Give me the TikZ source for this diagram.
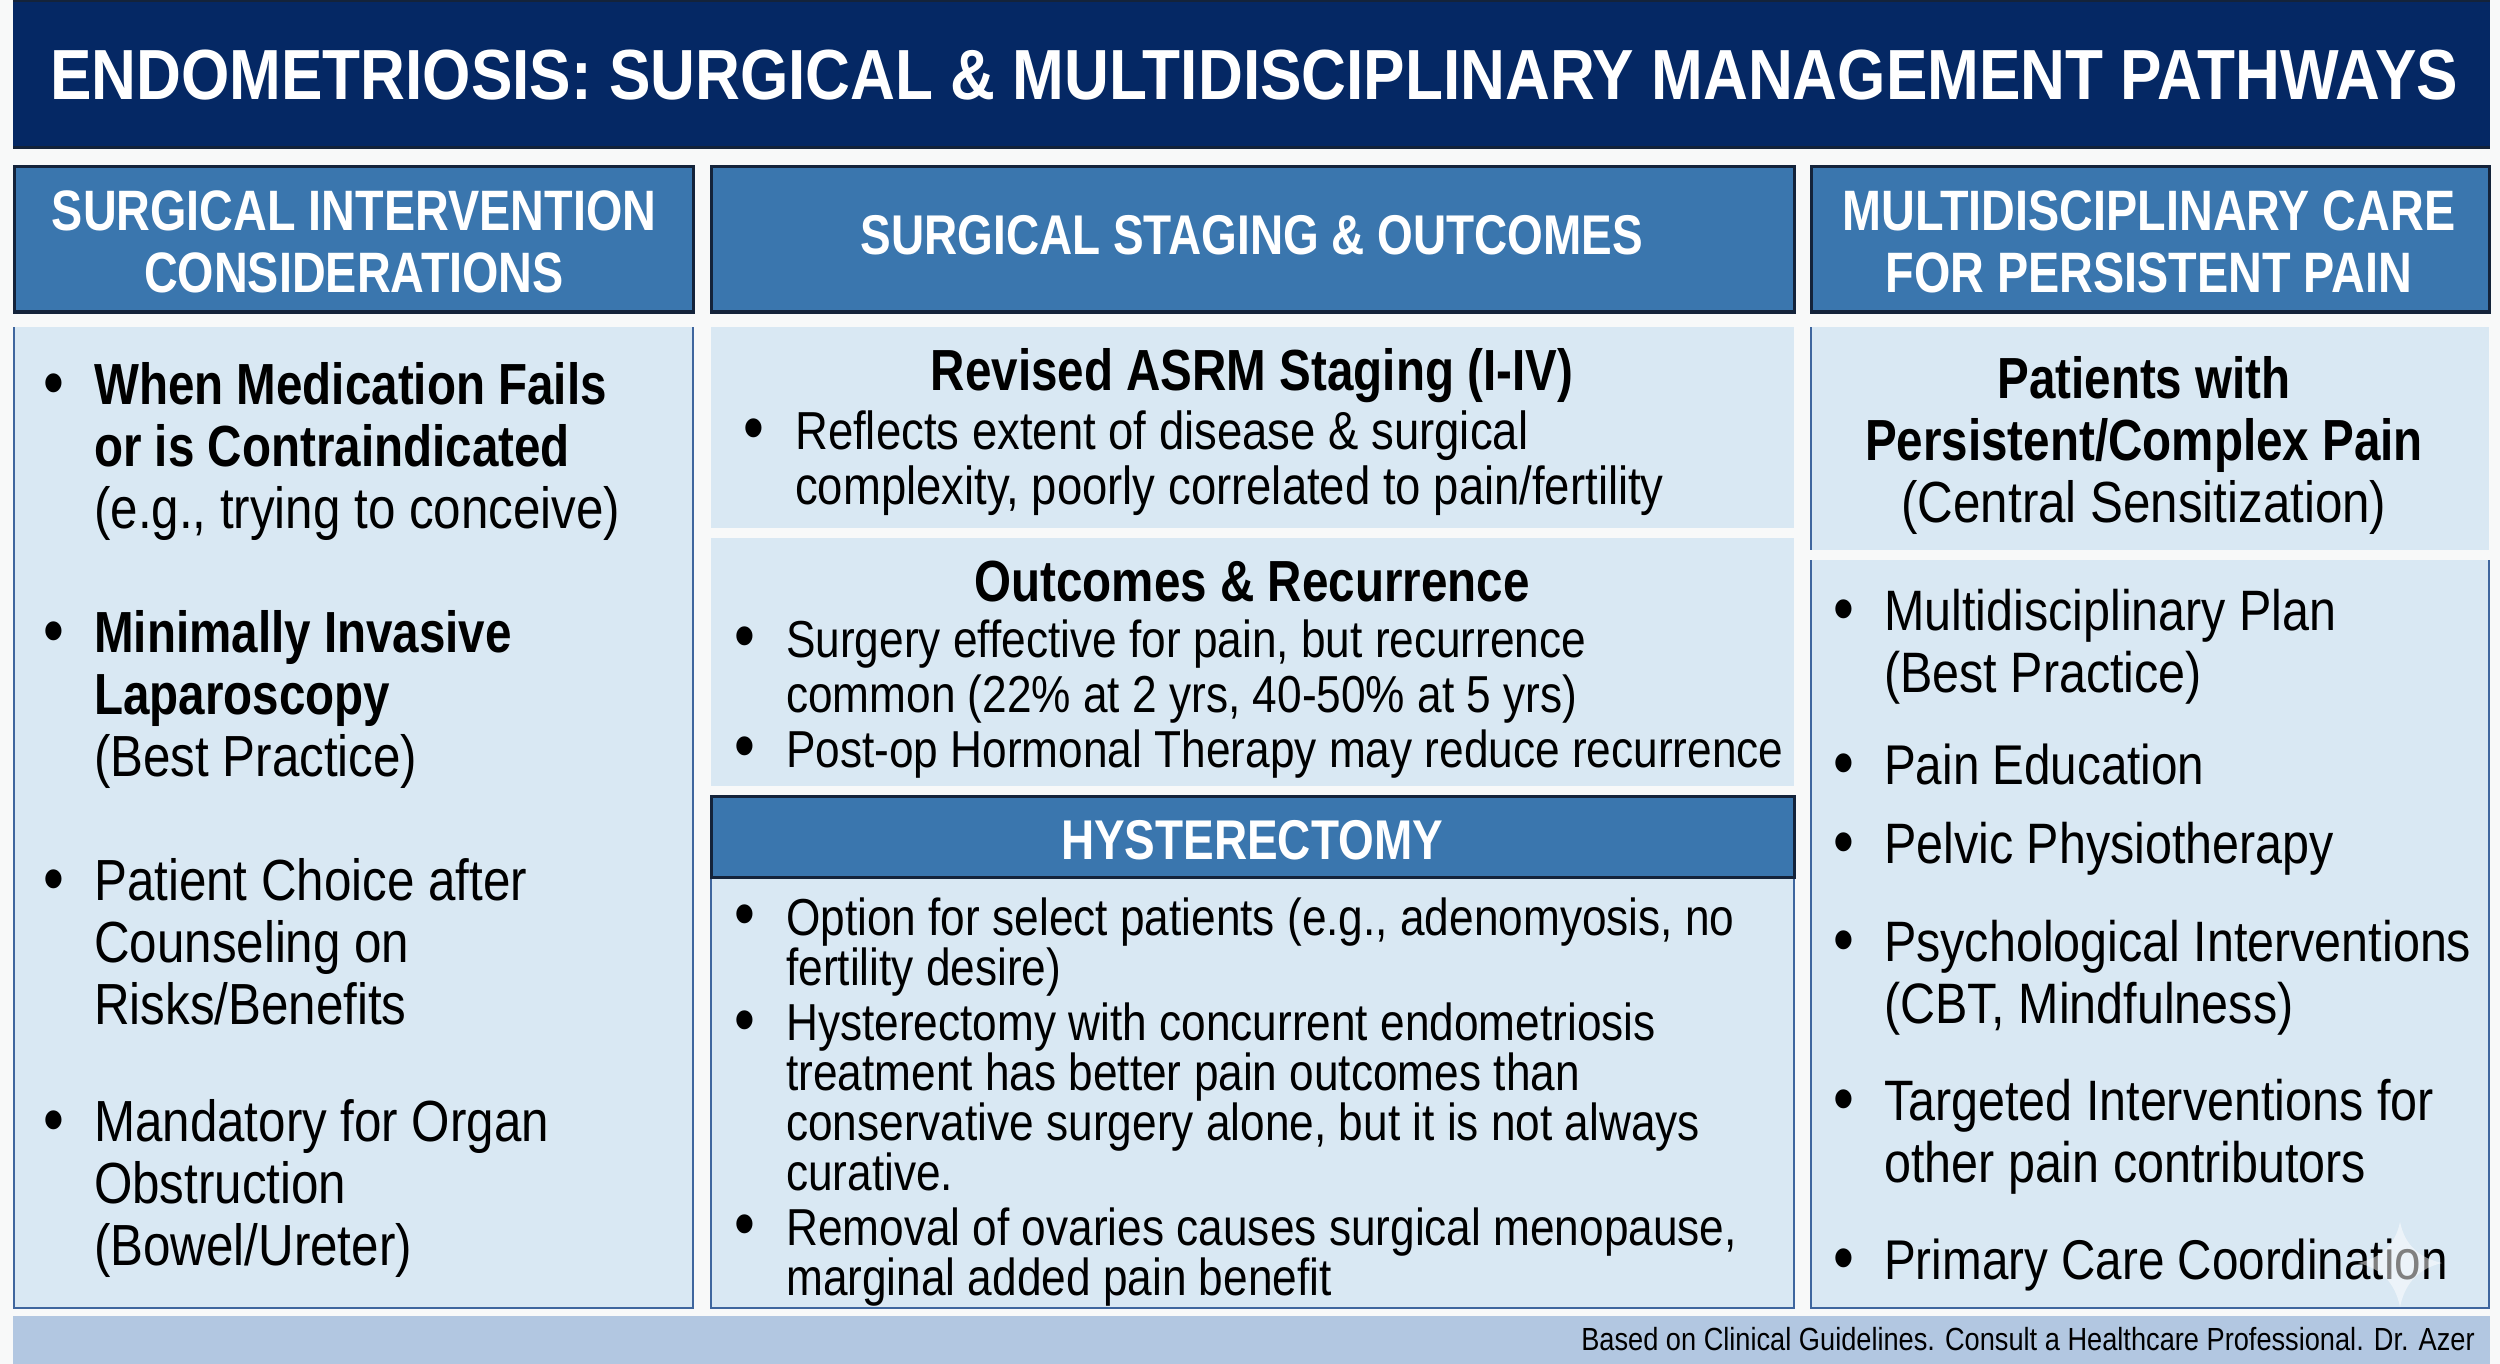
\documentclass[tikz,border=0pt]{standalone}
\usepackage{fontspec}
\setmainfont{Liberation Sans}
\newfontfamily\narrowfont[FakeStretch=0.85,BoldFeatures={FakeStretch=0.82}]{Liberation Sans}
\newfontfamily\titlefont[FakeStretch=0.875]{Liberation Sans}
\definecolor{pagewhite}{HTML}{F8F9F9}
\definecolor{titlenavy}{HTML}{052864}
\definecolor{headerblue}{HTML}{3A76AE}
\definecolor{panelblue}{HTML}{D9E8F3}
\definecolor{panelline}{HTML}{3F669E}
\definecolor{footerblue}{HTML}{B2C7E1}
\definecolor{headerline}{HTML}{14233A}
\tikzstyle{panelshading}=[fill=panelblue]
\tikzstyle{headershading}=[fill=headerblue,draw=headerline,line width=3pt]
\tikzstyle{panelborder}=[draw=panelline,line width=2.5pt]
\tikzstyle{headertext}=[text=white,font=\narrowfont\bfseries\fontsize{57}{62}\selectfont,align=center,inner sep=0pt]
\tikzstyle{subheadertext}=[headertext,font=\narrowfont\bfseries\fontsize{56}{62}\selectfont]
\tikzstyle{bigitem}=[anchor=base west,align=left,inner sep=0pt,font=\narrowfont\fontsize{58}{62}\selectfont]
\tikzstyle{rightitem}=[bigitem,font=\narrowfont\fontsize{57}{62}\selectfont]
\tikzstyle{shortitem}=[bigitem,font=\narrowfont\fontsize{56}{62}\selectfont]
\tikzstyle{miditem}=[anchor=base west,align=left,inner sep=0pt,font=\narrowfont\fontsize{52}{55}\selectfont]
\tikzstyle{hystitem}=[miditem,font=\narrowfont\fontsize{52}{49.7}\selectfont]
\tikzstyle{midtitle}=[inner sep=0pt,align=center,font=\narrowfont\bfseries\fontsize{58}{62}\selectfont]
\newcommand{\bul}[1]{\leavevmode\llap{\raisebox{-2.5pt}{\fontsize{70}{62}\selectfont\textbullet}\hspace{#1}}}
\begin{document}
\begin{tikzpicture}[x=1pt,y=-1pt]
	\useasboundingbox (0,0) rectangle (2500,1364);
	\fill[pagewhite] (0,0) rectangle (2500,1364);
	% title band
	\fill[titlenavy] (13,0) rectangle (2490,148);
	\draw[headerline,line width=3pt] (13,148) -- (2490,148);
	\draw[headerline,line width=3pt] (13,1) -- (2490,1);
	\node[text=white,inner sep=0pt,font=\titlefont\bfseries\fontsize{71}{75}\selectfont] (maintitle) at (1254,75) {ENDOMETRIOSIS: SURGICAL \& MULTIDISCIPLINARY MANAGEMENT PATHWAYS};
	% column headers
	\filldraw[headershading] (14,167) rectangle (693,312);
	\filldraw[headershading] (711,167) rectangle (1794,312);
	\filldraw[headershading] (1811,167) rectangle (2489,312);
	\node[headertext] (lefthead) at (354,242) {SURGICAL INTERVENTION\\CONSIDERATIONS};
	\node[subheadertext] (midhead) at (1252,235) {SURGICAL STAGING \& OUTCOMES};
	\node[headertext] (righthead) at (2149,242) {MULTIDISCIPLINARY CARE\\FOR PERSISTENT PAIN};
	% left panel
	\fill[panelshading] (14,327) rectangle (693,1308);
	\draw[panelborder] (14,327) -- (14,1308) -- (693,1308) -- (693,327);
	\node[bigitem] (medfails) at (94,528) {\bul{30pt}\textbf{When Medication Fails}\\\textbf{or is Contraindicated}\\(e.g., trying to conceive)};
	\node[bigitem] (laparoscopy) at (94,776) {\bul{30pt}\textbf{Minimally Invasive}\\\textbf{Laparoscopy}\\(Best Practice)};
	\node[bigitem] (choice) at (94,1024) {\bul{30pt}Patient Choice after\\Counseling on\\Risks/Benefits};
	\node[bigitem] (mandatory) at (94,1265) {\bul{30pt}Mandatory for Organ\\Obstruction\\(Bowel/Ureter)};
	% middle panels
	\fill[panelshading] (711,327) rectangle (1794,528);
	\fill[panelshading] (711,538) rectangle (1794,786);
	\fill[panelshading] (711,878) rectangle (1794,1308);
	\draw[panelborder] (711,878) -- (711,1308) -- (1794,1308) -- (1794,878);
	\node[midtitle] (asrm) at (1252,376) {Revised ASRM Staging (I-IV)};
	\node[miditem,font=\narrowfont\fontsize{53.5}{55}\selectfont] (extent) at (795,504) {\bul{31pt}Reflects extent of disease \& surgical\\complexity, poorly correlated to pain/fertility};
	\node[midtitle] (outcomes) at (1252,582) {Outcomes \& Recurrence};
	\node[miditem] (effective) at (786,712) {\bul{31pt}Surgery effective for pain, but recurrence\\common (22\% at 2 yrs, 40-50\% at 5 yrs)};
	\node[miditem] (postop) at (786,767) {\bul{31pt}Post-op Hormonal Therapy may reduce recurrence};
	\filldraw[headershading] (711,796) rectangle (1794,877);
	\node[subheadertext] (hysterectomy) at (1252,840) {HYSTERECTOMY};
	\node[hystitem] (option) at (786,985) {\bul{31pt}Option for select patients (e.g., adenomyosis, no\\fertility desire)};
	\node[hystitem] (concurrent) at (786,1190) {\bul{31pt}Hysterectomy with concurrent endometriosis\\treatment has better pain outcomes than\\conservative surgery alone, but it is not always\\curative.};
	\node[hystitem] (ovaries) at (786,1295) {\bul{31pt}Removal of ovaries causes surgical menopause,\\marginal added pain benefit};
	% right panels
	\fill[panelshading] (1811,327) rectangle (2489,550);
	\fill[panelshading] (1811,560) rectangle (2489,1308);
	\draw[panelborder] (1811,327) -- (1811,550);
	\draw[panelborder] (1811,560) -- (1811,1308) -- (2489,1308) -- (2489,560);
	\node[midtitle] (complex) at (2144,445) {Patients with\\Persistent/Complex Pain\\\mdseries (Central Sensitization)};
	\node[rightitem] (plan) at (1884,692) {\bul{30pt}Multidisciplinary Plan\\(Best Practice)};
	\node[shortitem] (education) at (1884,784) {\bul{30pt}Pain Education};
	\node[rightitem] (physio) at (1884,863) {\bul{30pt}Pelvic Physiotherapy};
	\node[rightitem] (psych) at (1884,1023) {\bul{30pt}Psychological Interventions\\(CBT, Mindfulness)};
	\node[rightitem] (targeted) at (1884,1182) {\bul{30pt}Targeted Interventions for\\other pain contributors};
	\node[shortitem] (primary) at (1884,1279) {\bul{30pt}Primary Care Coordination};
	% footer
	\fill[footerblue] (13,1316) rectangle (2490,1364);
	\node[anchor=base east,inner sep=0pt,font=\narrowfont\fontsize{32}{32}\selectfont] (footnote) at (2475,1350) {Based on Clinical Guidelines. Consult a Healthcare Professional. Dr. Azer};
	% sparkle
	\fill[white,opacity=.5] (2400,1222) .. controls (2405,1246) and (2420,1258) .. (2442,1263) .. controls (2420,1268) and (2405,1282) .. (2400,1307) .. controls (2395,1282) and (2380,1268) .. (2358,1263) .. controls (2380,1258) and (2395,1246) .. (2400,1222);
\end{tikzpicture}
\end{document}
